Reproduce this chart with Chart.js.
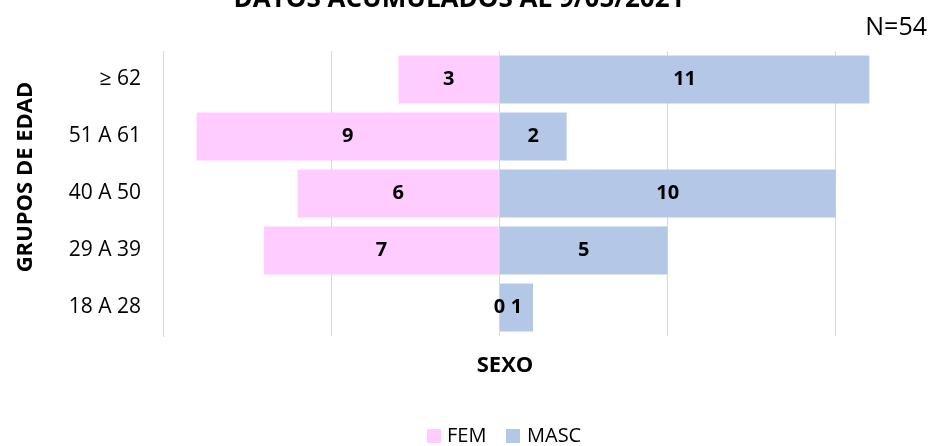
<!DOCTYPE html>
<html>
<head>
<meta charset="utf-8">
<script src="https://cdn.jsdelivr.net/npm/chart.js@4.4.0/dist/chart.umd.min.js"></script>
<style>
  html, body { margin: 0; padding: 0; background: #ffffff; }
  #wrap { width: 931px; height: 446px; position: relative; }
</style>
</head>
<body>
<div id="wrap"><canvas id="sexChart" width="931" height="446"></canvas></div>
<script>
const grupos = ['≥ 62', '51 A 61', '40 A 50', '29 A 39', '18 A 28'];
const fem = [3, 9, 6, 7, 0];
const masc = [11, 2, 10, 5, 1];
const gridTicks = [-10, -5, 0, 5, 10];

const FONT = "'Open Sans', sans-serif";
const PINK = '#FFCCFF';
const BLUE = '#B4C7E7';

// etiquetas, titulo, N y leyenda dibujados a mano
const extras = {
    id: 'extras',
    afterDatasetsDraw(chart) {
        const ctx = chart.ctx;
        ctx.save();
        ctx.fillStyle = '#000';
        ctx.font = 'bold 20px ' + FONT;
        ctx.textAlign = 'center';
        ctx.textBaseline = 'middle';
        chart.data.datasets.forEach((ds, i) => {
            chart.getDatasetMeta(i).data.forEach((bar, j) => {
                const x = (bar.x + bar.base) / 2;
                ctx.fillText(String(Math.abs(ds.data[j])), x, bar.y);
            });
        });
        ctx.restore();
    },
    afterDraw(chart) {
        const ctx = chart.ctx;
        ctx.save();
        ctx.fillStyle = '#000';
        ctx.textAlign = 'center';

        ctx.font = 'bold 26px ' + FONT;
        ctx.textBaseline = 'alphabetic';
        ctx.fillText('DATOS ACUMULADOS AL 9/05/2021', 459, 7);

        ctx.font = '25px ' + FONT;
        ctx.textAlign = 'right';
        ctx.textBaseline = 'middle';
        ctx.fillText('N=54', 927, 28);

        ctx.textAlign = 'center';
        ctx.font = 'bold 22px ' + FONT;
        ctx.fillText('SEXO', 505, 366);

        ctx.save();
        ctx.translate(26, 177);
        ctx.rotate(-Math.PI / 2);
        ctx.fillText('GRUPOS DE EDAD', 0, 0);
        ctx.restore();

        // leyenda
        ctx.font = '20px ' + FONT;
        ctx.textAlign = 'left';
        ctx.fillStyle = PINK;
        ctx.fillRect(427, 429, 14, 14);
        ctx.fillStyle = '#000';
        ctx.fillText('FEM', 447, 436);
        ctx.fillStyle = BLUE;
        ctx.fillRect(506, 429, 14, 14);
        ctx.fillStyle = '#000';
        ctx.fillText('MASC', 527, 436);
        ctx.restore();
    }
};

new Chart(document.getElementById('sexChart'), {
    type: 'bar',
    data: {
        labels: grupos,
        datasets: [
            { label: 'FEM', data: fem.map(v => -v), backgroundColor: PINK },
            { label: 'MASC', data: masc, backgroundColor: BLUE }
        ]
    },
    options: {
        indexAxis: 'y',
        responsive: false,
        animation: false,
        layout: { padding: { top: 51, right: 28, left: 0, bottom: 0 } },
        datasets: { bar: { barPercentage: 0.84, categoryPercentage: 1 } },
        scales: {
            x: {
                stacked: true,
                min: -10,
                max: 12,
                afterBuildTicks: (scale) => { scale.ticks = gridTicks.map(v => ({ value: v })); },
                afterFit: (scale) => { scale.height = 110; },
                ticks: { display: false },
                grid: { color: '#D9D9D9', lineWidth: 1, drawTicks: false },
                border: { display: false }
            },
            y: {
                stacked: true,
                afterFit: (scale) => { scale.width = 163; },
                ticks: { color: '#000', font: { family: FONT, size: 21 }, padding: 22 },
                grid: { display: false, drawTicks: false },
                border: { display: true, color: '#D9D9D9', width: 1 }
            }
        },
        plugins: {
            legend: { display: false },
            tooltip: { enabled: false }
        }
    },
    plugins: [extras]
});
</script>
</body>
</html>
